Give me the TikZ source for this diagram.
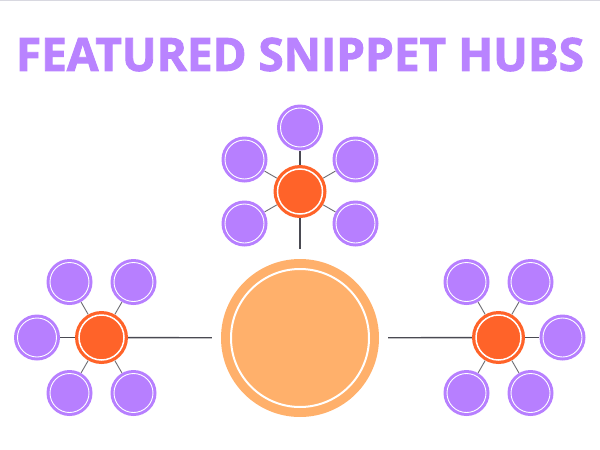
\documentclass[tikz,border=0pt]{standalone}
\usepackage{fontspec}
\usepackage{graphicx}
\usetikzlibrary{calc}
\setmainfont{Open Sans}
\newfontfamily\titlefont[BoldFeatures={FakeBold=2}]{Open Sans}
\definecolor{titlec}{HTML}{B983FF}
\definecolor{satc}{HTML}{B77FFF}
\definecolor{hubc}{HTML}{FF6329}
\definecolor{mainc}{HTML}{FFB06B}
\definecolor{linec}{HTML}{4A4A52}
\definecolor{spokec}{HTML}{6A6A70}
\definecolor{borderc}{HTML}{D8D8E0}
\begin{document}
\begin{tikzpicture}[x=1pt,y=-1pt,
  sat/.style={circle, fill=satc, minimum size=46pt, inner sep=0pt,
    path picture={\draw[white, line width=0.9pt] (path picture bounding box.center) circle (19.5pt);}},
  hub/.style={circle, fill=hubc, minimum size=53pt, inner sep=0pt,
    path picture={\draw[white, line width=1.5pt] (path picture bounding box.center) circle (22.5pt);}},
  mainnode/.style={circle, fill=mainc, minimum size=158pt, inner sep=0pt,
    path picture={\draw[white, line width=2pt] (path picture bounding box.center) circle (69pt);}},
  link/.style={draw=linec, line width=1.4pt},
  spoke/.style={draw=spokec, line width=0.9pt},
  border/.style={draw=borderc, line width=1.5pt}
]
\useasboundingbox (0,0) rectangle (600,450);
\coordinate (bl) at (0,0.6);
\coordinate (br) at (600,0.6);
\draw[border] (bl) -- (br);

\node[inner sep=0pt, text=titlec] (title) at (300,54.5)
  {\resizebox{568pt}{!}{\titlefont\bfseries FEATURED SNIPPET HUBS}};

% main
\node[mainnode] (main) at (300,338) {};

% hubs
\node[hub] (hubT) at (300,191.5) {};
\node[hub] (hubL) at (101.5,337.5) {};
\node[hub] (hubR) at (498.5,337.5) {};

% satellites of top hub
\node[sat] (t1) at ($(hubT)+(0,-64)$) {};
\node[sat] (t2) at ($(hubT)+(-55.5,-32)$) {};
\node[sat] (t3) at ($(hubT)+(55.5,-32)$) {};
\node[sat] (t4) at ($(hubT)+(-55.5,32)$) {};
\node[sat] (t5) at ($(hubT)+(55.5,32)$) {};

% satellites of left hub
\node[sat] (l1) at ($(hubL)+(-64.5,0)$) {};
\node[sat] (l2) at ($(hubL)+(-32,-55.5)$) {};
\node[sat] (l3) at ($(hubL)+(32,-55.5)$) {};
\node[sat] (l4) at ($(hubL)+(-32,55.5)$) {};
\node[sat] (l5) at ($(hubL)+(32,55.5)$) {};

% satellites of right hub
\node[sat] (r1) at ($(hubR)+(64,0)$) {};
\node[sat] (r2) at ($(hubR)+(-32,-55.5)$) {};
\node[sat] (r3) at ($(hubR)+(32,-55.5)$) {};
\node[sat] (r4) at ($(hubR)+(-32,55.5)$) {};
\node[sat] (r5) at ($(hubR)+(32,55.5)$) {};

% spokes
\foreach \s in {t1,t2,t3,t4,t5} \draw[spoke] (hubT) -- (\s);
\foreach \s in {l1,l2,l3,l4,l5} \draw[spoke] (hubL) -- (\s);
\foreach \s in {r1,r2,r3,r4,r5} \draw[spoke] (hubR) -- (\s);
\draw[link] (hubT) -- (t1);
\draw[link] (hubL) -- (l1);
\draw[link] (hubR) -- (r1);

% hub to main
\draw[link, shorten >=10pt] (hubT) -- (main);
\draw[link, shorten >=9pt] (hubL) -- (main);
\draw[link, shorten >=9pt] (hubR) -- (main);
\end{tikzpicture}
\end{document}
